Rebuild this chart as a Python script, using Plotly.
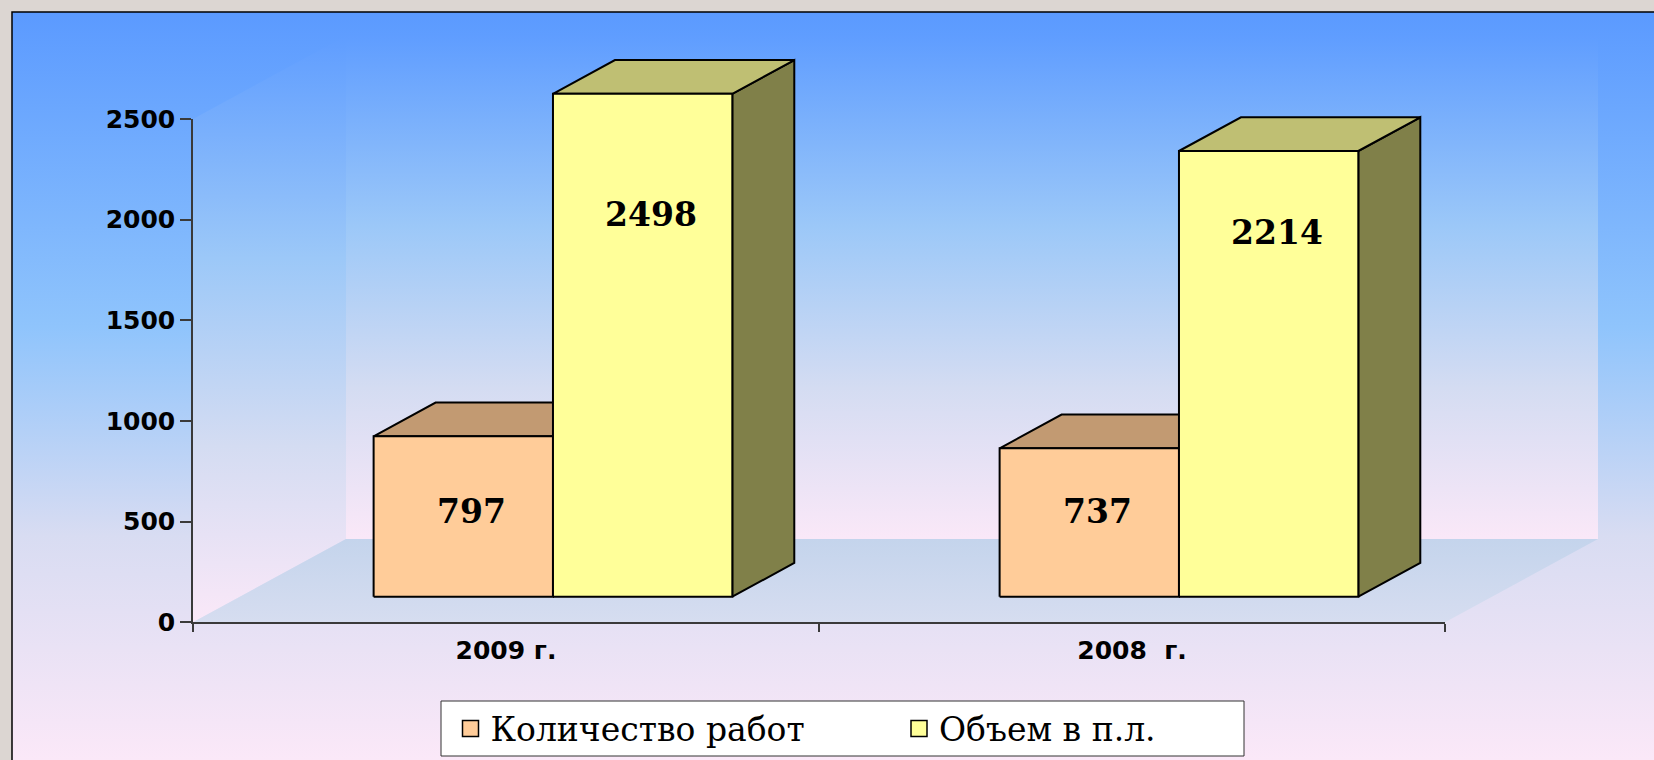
import plotly.graph_objects as go

# ---------------- data ----------------
CATEGORIES = ["2009 г.", "2008  г."]
SERIES_NAMES = ["Количество работ", "Объем в п.л."]
WORKS = [797, 737]          # Количество работ
VOLUME = [2498, 2214]       # Объем в п.л.
Y_TICKS = [0, 500, 1000, 1500, 2000, 2500]
Y_MAX = 2500

# where the value labels sit along each bar (value units from the bar base)
LABEL_AT = [[421, 421], [1901, 1811]]

# ---------------- style / geometry ----------------
W, H = 1654, 760
AX_L, AX_R = 193.0, 1445.0       # x-axis extent (px)
AX_B, AX_T = 622.3, 119.0        # y-axis extent (px) for 0 .. Y_MAX
FRAME_L, FRAME_T = 12.0, 12.0
LEG_BOX = (441, 701, 1244, 756)  # legend frame (px)
LEG_SYMBOL_X = [471.5, 920.0]    # legend swatch centres (px)

ncat = len(CATEGORIES)
unit_x = (AX_R - AX_L) / ncat
unit_y = (AX_B - AX_T) / Y_MAX


def px_x(p):
    return (p - AX_L) / unit_x - 0.5


def px_y(p):
    return (AX_B - p) / unit_y


X_RANGE = [px_x(0), px_x(W)]
Y_RANGE = [px_y(H), px_y(0)]

DX = 153.0 / unit_x          # full 3-D depth (x units)
DY = 83.3 / unit_y           # full 3-D depth (value units)
F_FRONT, F_BACK = 0.307, 0.712
BW = 0.2865                   # bar width (category units)
SERIES_OFFSETS = [-BW / 2, BW / 2]

FRONT_COLORS = ["#ffcc99", "#ffff99"]
TOP_COLORS = ["#c29a72", "#bfbf73"]
SIDE_COLORS = ["#80664c", "#808049"]

BG_SCALE = [[0.0, "#fbe8f8"], [0.3, "#d8dcf2"], [0.58, "#8fc4fc"], [1.0, "#5b9aff"]]
WALL_SCALE = [[0.0, "#fae8f8"], [0.3, "#d4dcf2"], [0.62, "#9cc8f8"], [1.0, "#5f9dff"]]
FLOOR_SCALE = [[0.0, "#d6ddf0"], [1.0, "#c4d4ec"]]

LABEL_FONT = dict(family="DejaVu Serif", size=33, color="black", weight="bold")
AXIS_FONT = dict(family="DejaVu Sans", size=25, color="black", weight="bold")
LEGEND_FONT = dict(family="DejaVu Serif", size=33, color="black")
AXIS_COLOR = "#3a3a3a"
PAGE_BG = "#dcd6d2"

fig = go.Figure()


def poly(xs, ys, fill=None, gradient=None, line_w=0):
    xs = list(xs) + [xs[0]]
    ys = list(ys) + [ys[0]]
    kw = dict(x=xs, y=ys, mode="lines", fill="toself",
              hoverinfo="skip", showlegend=False)
    if gradient is not None:
        kw["fillgradient"] = gradient
    else:
        kw["fillcolor"] = fill
    if line_w == 0:
        kw["line"] = dict(color="rgba(0,0,0,0)", width=0)
    else:
        kw["line"] = dict(color="black", width=line_w)
    fig.add_trace(go.Scatter(**kw))


# chart area background (inside the frame)
poly([px_x(FRAME_L), px_x(W + 5), px_x(W + 5), px_x(FRAME_L)],
     [px_y(FRAME_T), px_y(FRAME_T), px_y(H + 5), px_y(H + 5)],
     gradient=dict(type="vertical", colorscale=BG_SCALE,
                   start=px_y(H), stop=px_y(FRAME_T)))

# 3-D walls and floor
x0, x1 = -0.5, ncat - 0.5
poly([x0, x0 + DX, x0 + DX, x0], [0, DY, DY + Y_MAX, Y_MAX],
     gradient=dict(type="vertical", colorscale=WALL_SCALE, start=0, stop=DY + Y_MAX))
poly([x0 + DX, x1 + DX, x1 + DX, x0 + DX], [DY, DY, DY + Y_MAX, DY + Y_MAX],
     gradient=dict(type="vertical", colorscale=WALL_SCALE, start=DY, stop=DY + Y_MAX))
poly([x0, x1, x1 + DX, x0 + DX], [0, 0, DY, DY],
     gradient=dict(type="vertical", colorscale=FLOOR_SCALE, start=0, stop=DY))

# 3-D bars
series_values = [WORKS, VOLUME]
sx1, sy1 = F_FRONT * DX, F_FRONT * DY
sx2, sy2 = F_BACK * DX, F_BACK * DY
for ci in range(ncat):
    for si, vals in enumerate(series_values):
        v = vals[ci]
        c = ci + SERIES_OFFSETS[si]
        xl, xr = c - BW / 2, c + BW / 2
        poly([xr + sx1, xr + sx2, xr + sx2, xr + sx1], [sy1, sy2, sy2 + v, sy1 + v],
             fill=SIDE_COLORS[si], line_w=2)
        poly([xl + sx1, xr + sx1, xr + sx2, xl + sx2], [sy1 + v, sy1 + v, sy2 + v, sy2 + v],
             fill=TOP_COLORS[si], line_w=2)
        poly([xl + sx1, xr + sx1, xr + sx1, xl + sx1], [sy1, sy1, sy1 + v, sy1 + v],
             fill=FRONT_COLORS[si], line_w=2)
        fig.add_annotation(x=c + sx1 + 0.013, y=sy1 + LABEL_AT[si][ci], xref="x", yref="y",
                           text=str(v), showarrow=False, font=LABEL_FONT,
                           xanchor="center", yanchor="middle")

# legend entries (one legend per series, inside a common frame)
legend_ids = ["legend", "legend2"]
for si, name in enumerate(SERIES_NAMES):
    fig.add_trace(go.Scatter(x=[None], y=[None], mode="markers", name=name,
                             legend=legend_ids[si],
                             marker=dict(symbol="square", size=16, color=FRONT_COLORS[si],
                                         line=dict(color="black", width=1.5))))

# axis frame (category axis + value axis)
fig.add_trace(go.Scatter(x=CATEGORIES, y=[0, 0], xaxis="x2", yaxis="y2", mode="markers",
                         marker=dict(opacity=0), showlegend=False, hoverinfo="skip"))

leg_mid_y = 1 - (LEG_BOX[1] + LEG_BOX[3]) / 2 / H


def legend_cfg(sym_x):
    return dict(orientation="h", x=(sym_x - 21) / W, y=leg_mid_y,
                xanchor="left", yanchor="middle",
                bgcolor="rgba(0,0,0,0)", borderwidth=0,
                font=LEGEND_FONT, itemwidth=30)


fig.update_layout(
    width=W, height=H,
    margin=dict(l=0, r=0, t=0, b=0, autoexpand=False),
    paper_bgcolor=PAGE_BG,
    plot_bgcolor="rgba(0,0,0,0)",
    xaxis=dict(domain=[0, 1], range=X_RANGE, visible=False, fixedrange=True, automargin=False),
    yaxis=dict(domain=[0, 1], range=Y_RANGE, visible=False, fixedrange=True, automargin=False),
    xaxis2=dict(domain=[AX_L / W, AX_R / W], anchor="y2", type="category",
                categoryorder="array", categoryarray=CATEGORIES, range=[-0.5, ncat - 0.5],
                showline=True, linecolor=AXIS_COLOR, linewidth=1.5,
                ticks="outside", tickson="boundaries", ticklen=8, tickwidth=1.5,
                tickcolor=AXIS_COLOR, tickfont=AXIS_FONT, ticklabelstandoff=5,
                showgrid=False, zeroline=False, fixedrange=True, automargin=False),
    yaxis2=dict(domain=[(H - AX_B) / H, (H - AX_T) / H], anchor="x2", range=[0, Y_MAX],
                tickvals=Y_TICKS, showline=True, linecolor=AXIS_COLOR, linewidth=1.5,
                ticks="outside", ticklen=11, tickwidth=1.5, tickcolor=AXIS_COLOR,
                tickfont=AXIS_FONT, showgrid=False, zeroline=False, fixedrange=True,
                automargin=False),
    showlegend=True,
    legend=legend_cfg(LEG_SYMBOL_X[0]),
    legend2=legend_cfg(LEG_SYMBOL_X[1]),
    shapes=[
        dict(type="rect", xref="paper", yref="paper", x0=FRAME_L / W, x1=1.02,
             y0=-0.02, y1=1 - FRAME_T / H, line=dict(color="black", width=1.5),
             layer="above"),
        dict(type="rect", xref="paper", yref="paper",
             x0=LEG_BOX[0] / W, x1=LEG_BOX[2] / W, y0=1 - LEG_BOX[3] / H, y1=1 - LEG_BOX[1] / H,
             fillcolor="white", line=dict(color="#333333", width=1), layer="above"),
    ],
)

fig.write_html(
    "out.html",
    config={"displayModeBar": False},
    post_script="document.body.style.margin='0px';document.body.style.background='%s';" % PAGE_BG,
)
